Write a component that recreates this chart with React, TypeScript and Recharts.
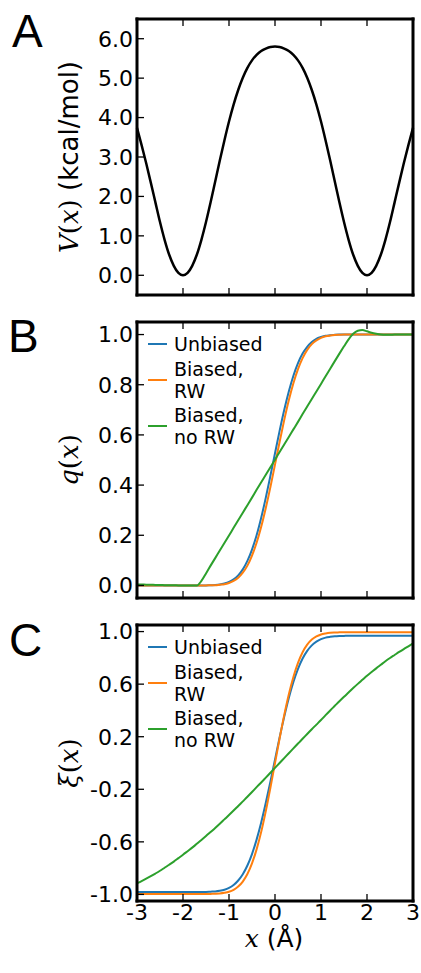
import React from "react";
import { LineChart, Line, XAxis, YAxis, Legend } from "recharts";

// x grid (Å), shared by all three panels
const X = [
  -3.0, -2.9, -2.8, -2.7, -2.6, -2.5, -2.4, -2.3, -2.2, -2.1,
  -2.0, -1.9, -1.8, -1.7, -1.6, -1.5, -1.4, -1.3, -1.2, -1.1,
  -1.0, -0.9, -0.8, -0.7, -0.6, -0.5, -0.4, -0.3, -0.2, -0.1,
  0.0, 0.1, 0.2, 0.3, 0.4, 0.5, 0.6, 0.7, 0.8, 0.9,
  1.0, 1.1, 1.2, 1.3, 1.4, 1.5, 1.6, 1.7, 1.8, 1.9,
  2.0, 2.1, 2.2, 2.3, 2.4, 2.5, 2.6, 2.7, 2.8, 2.9, 3.0,
];

// panel A: V(x) in kcal/mol
const V_KCAL = [
  3.74, 3.3, 2.84, 2.35, 1.85, 1.35, 0.9, 0.52, 0.24, 0.06,
  0.0, 0.06, 0.24, 0.52, 0.9, 1.35, 1.85, 2.38, 2.91, 3.42,
  3.9, 4.33, 4.7, 5.01, 5.26, 5.45, 5.59, 5.69, 5.75, 5.79,
  5.8, 5.79, 5.75, 5.69, 5.59, 5.45, 5.26, 5.01, 4.7, 4.33,
  3.9, 3.42, 2.91, 2.38, 1.85, 1.35, 0.9, 0.52, 0.24, 0.06,
  0.0, 0.06, 0.24, 0.52, 0.9, 1.35, 1.85, 2.35, 2.84, 3.3, 3.74,
];

// panel B: q(x)
const Q_UNBIASED = [
  0, 0, 0, 0, 0, 0, 0, 0, 0, 0,
  0, 0, 0, 0, 0, 0.0, 0.001, 0.002, 0.004, 0.008,
  0.014, 0.024, 0.04, 0.064, 0.098, 0.143, 0.2, 0.27, 0.35, 0.437,
  0.527, 0.616, 0.699, 0.773, 0.836, 0.886, 0.924, 0.951, 0.97, 0.983,
  0.99, 0.995, 0.997, 0.999, 1, 1, 1, 1, 1, 1,
  1, 1, 1, 1, 1, 1, 1, 1, 1, 1, 1,
];
const Q_RW = [
  0, 0, 0, 0, 0, 0, 0, 0, 0, 0,
  0, 0, 0, 0, 0, 0.0, 0.001, 0.001, 0.003, 0.005,
  0.01, 0.018, 0.031, 0.051, 0.079, 0.119, 0.17, 0.234, 0.309, 0.392,
  0.482, 0.572, 0.659, 0.738, 0.806, 0.862, 0.906, 0.939, 0.962, 0.977,
  0.987, 0.993, 0.996, 0.998, 0.999, 1, 1, 1, 1, 1,
  1, 1, 1, 1, 1, 1, 1, 1, 1, 1, 1,
];
const Q_NO_RW = [
  0.004, 0.004, 0.003, 0.003, 0.002, 0.002, 0.001, 0.001, 0.001, 0.0,
  0.0, 0.0, 0.0, 0.0, 0.018, 0.048, 0.079, 0.109, 0.139, 0.169,
  0.199, 0.23, 0.26, 0.29, 0.32, 0.35, 0.381, 0.411, 0.441, 0.471,
  0.501, 0.532, 0.562, 0.592, 0.622, 0.652, 0.683, 0.713, 0.743, 0.773,
  0.803, 0.834, 0.864, 0.894, 0.924, 0.953, 0.981, 1.003, 1.015, 1.018,
  1.013, 1.007, 1.003, 1.0, 0.999, 0.999, 1.0, 1.0, 1.0, 1.0, 1.0,
];

// panel C: xi(x)
const XI_UNBIASED = [
  -0.982, -0.982, -0.982, -0.982, -0.982, -0.982, -0.982, -0.982, -0.982, -0.982,
  -0.982, -0.982, -0.982, -0.982, -0.982, -0.981, -0.979, -0.977, -0.972, -0.964,
  -0.95, -0.928, -0.894, -0.846, -0.78, -0.693, -0.583, -0.453, -0.303, -0.142,
  0.026, 0.194, 0.351, 0.494, 0.616, 0.716, 0.795, 0.853, 0.895, 0.923,
  0.942, 0.954, 0.96, 0.964, 0.966, 0.967, 0.968, 0.968, 0.968, 0.968,
  0.968, 0.968, 0.968, 0.968, 0.968, 0.968, 0.968, 0.968, 0.968, 0.968, 0.968,
];
const XI_RW = [
  -0.997, -0.997, -0.997, -0.997, -0.997, -0.997, -0.997, -0.997, -0.997, -0.997,
  -0.997, -0.997, -0.997, -0.997, -0.997, -0.997, -0.996, -0.995, -0.993, -0.988,
  -0.98, -0.965, -0.94, -0.902, -0.845, -0.764, -0.657, -0.524, -0.366, -0.188,
  -0.001, 0.186, 0.364, 0.522, 0.655, 0.762, 0.843, 0.9, 0.939, 0.963,
  0.978, 0.986, 0.991, 0.993, 0.994, 0.995, 0.995, 0.995, 0.995, 0.995,
  0.995, 0.995, 0.995, 0.995, 0.995, 0.995, 0.995, 0.995, 0.995, 0.995, 0.995,
];
const XI_NO_RW = [
  -0.915, -0.898, -0.88, -0.861, -0.841, -0.82, -0.797, -0.774, -0.75, -0.724,
  -0.698, -0.671, -0.644, -0.615, -0.586, -0.556, -0.525, -0.494, -0.462, -0.429,
  -0.396, -0.362, -0.327, -0.292, -0.257, -0.221, -0.184, -0.148, -0.111, -0.074,
  -0.037, 0.0, 0.037, 0.074, 0.111, 0.148, 0.184, 0.221, 0.257, 0.292,
  0.327, 0.364, 0.4, 0.435, 0.47, 0.504, 0.537, 0.57, 0.602, 0.633,
  0.664, 0.692, 0.72, 0.747, 0.774, 0.799, 0.822, 0.845, 0.867, 0.888, 0.91,
];

const X_TICKS = [-3, -2, -1, 0, 1, 2, 3];
const V_TICKS = [0, 1, 2, 3, 4, 5, 6];
const Q_TICKS = [0, 0.2, 0.4, 0.6, 0.8, 1.0];
const XI_TICKS = [-1.0, -0.6, -0.2, 0.2, 0.6, 1.0];

const BLUE = "#1f77b4";
const ORANGE = "#ff7f0e";
const GREEN = "#2ca02c";

const SANS = "'DejaVu Sans', sans-serif";
const SERIF = "'DejaVu Serif', serif";
const LETTER_FONT = "'Liberation Sans', Arial, sans-serif";

const A_DATA = X.map((x, i) => ({ x, v: V_KCAL[i] }));
const B_DATA = X.map((x, i) => ({ x, u: Q_UNBIASED[i], rw: Q_RW[i], norw: Q_NO_RW[i] }));
const C_DATA = X.map((x, i) => ({ x, u: XI_UNBIASED[i], rw: XI_RW[i], norw: XI_NO_RW[i] }));

const LEGEND_ITEMS = [
  { color: BLUE, label: ["Unbiased"] },
  { color: ORANGE, label: ["Biased,", "RW"] },
  { color: GREEN, label: ["Biased,", "no RW"] },
];

const FRAME = { stroke: "#000", strokeWidth: 3, strokeLinecap: "square" as const };
const TICK_LINE = { stroke: "#000", strokeWidth: 1.3 };
const TICK_TEXT = { fill: "#000", fontSize: 22, fontFamily: SANS };
const blank = () => "";

function LegendBox() {
  return (
    <div style={{ fontFamily: SANS, fontSize: 19, lineHeight: "22px", color: "#000" }}>
      {LEGEND_ITEMS.map((it, i) => (
        <div key={i} style={{ display: "flex", alignItems: "center", marginTop: i ? 2.5 : 0 }}>
          <span style={{ width: 19, height: 2, background: it.color, marginRight: 7, flex: "none" }} />
          <div>
            {it.label.map((l) => (
              <div key={l}>{l}</div>
            ))}
          </div>
        </div>
      ))}
    </div>
  );
}

const mathTitle = (sym: string, rest?: string) => (
  <>
    <tspan fontFamily={SERIF} fontStyle="italic">{sym}</tspan>
    <tspan fontFamily={SERIF}>(</tspan>
    <tspan fontFamily={SERIF} fontStyle="italic">x</tspan>
    <tspan fontFamily={SERIF}>)</tspan>
    {rest ? <tspan fontFamily={SANS}>{rest}</tspan> : null}
  </>
);

type Series = { key: string; color: string; width: number };

type PanelProps = {
  top: number;
  height: number;
  data: any[];
  domain: [number, number];
  yTicks: number[];
  series: Series[];
  letter: string;
  letterX: number;
  letterY: number;
  title: React.ReactNode;
  legend?: boolean;
  xLabels?: boolean;
};

function Panel(p: PanelProps) {
  const yTitle = (props: any) => {
    const vb = props.viewBox || { y: 19, height: 276 };
    const cy = vb.y + vb.height / 2;
    return (
      <g>
        <text x={p.letterX} y={p.letterY} fontFamily={LETTER_FONT} fontSize={46} fill="#000">
          {p.letter}
        </text>
        <text x={78} y={cy} transform={`rotate(-90 78 ${cy})`} textAnchor="middle" fontSize={26} fill="#000">
          {p.title}
        </text>
      </g>
    );
  };
  const xTitle = (props: any) => {
    const vb = props.viewBox || { x: 137, y: 295, width: 276 };
    return (
      <text x={vb.x + vb.width / 2 - 1} y={vb.y + 46} textAnchor="middle" fontSize={25} fill="#000">
        <tspan fontFamily={SERIF} fontStyle="italic">x</tspan>
        <tspan fontFamily={SANS}>{" (Å)"}</tspan>
      </text>
    );
  };

  return (
    <div style={{ position: "absolute", left: 0, top: p.top }}>
      <LineChart
        width={421}
        height={p.height}
        data={p.data}
        margin={{ top: 18, right: 7, bottom: p.height - 296, left: 136 }}
      >
        <XAxis
          dataKey="x"
          type="number"
          domain={[-3, 3]}
          ticks={X_TICKS}
          interval={0}
          height={1}
          axisLine={FRAME}
          tickLine={TICK_LINE}
          tickSize={-7}
          tickMargin={10}
          tick={TICK_TEXT}
          tickFormatter={p.xLabels ? (v: number) => String(v) : blank}
          label={p.xLabels ? xTitle : undefined}
        />
        <XAxis
          xAxisId="top"
          orientation="top"
          dataKey="x"
          type="number"
          domain={[-3, 3]}
          ticks={X_TICKS}
          interval={0}
          height={1}
          axisLine={FRAME}
          tickLine={TICK_LINE}
          tickSize={-7}
          tickFormatter={blank}
        />
        <YAxis
          type="number"
          domain={p.domain}
          ticks={p.yTicks}
          interval={0}
          width={1}
          axisLine={FRAME}
          tickLine={TICK_LINE}
          tickSize={-7}
          tickMargin={11}
          tick={TICK_TEXT}
          tickFormatter={(v: number) => v.toFixed(1)}
          label={yTitle}
        />
        <YAxis
          yAxisId="right"
          orientation="right"
          type="number"
          domain={p.domain}
          ticks={p.yTicks}
          interval={0}
          width={1}
          axisLine={FRAME}
          tickLine={TICK_LINE}
          tickSize={-7}
          tickFormatter={blank}
        />
        {p.series.map((s) => (
          <Line
            key={s.key}
            type="monotone"
            dataKey={s.key}
            stroke={s.color}
            strokeWidth={s.width}
            dot={false}
            activeDot={false}
            isAnimationActive={false}
          />
        ))}
        {p.legend ? (
          <Legend
            layout="vertical"
            align="center"
            verticalAlign="middle"
            content={() => <LegendBox />}
            wrapperStyle={{ left: 148, top: 30, width: 180 }}
          />
        ) : null}
      </LineChart>
    </div>
  );
}

const THREE: Series[] = [
  { key: "u", color: BLUE, width: 2 },
  { key: "rw", color: ORANGE, width: 2 },
  { key: "norw", color: GREEN, width: 2 },
];

export default function App() {
  return (
    <div style={{ position: "absolute", left: 0, top: 0, width: 421, height: 973, background: "#fff" }}>
      <Panel
        top={0}
        height={303}
        data={A_DATA}
        domain={[-0.5, 6.5]}
        yTicks={V_TICKS}
        series={[{ key: "v", color: "#000", width: 2.5 }]}
        letter="A"
        letterX={12}
        letterY={47}
        title={mathTitle("V", " (kcal/mol)")}
      />
      <Panel
        top={303}
        height={303}
        data={B_DATA}
        domain={[-0.05, 1.05]}
        yTicks={Q_TICKS}
        series={THREE}
        letter="B"
        letterX={8}
        letterY={49}
        title={mathTitle("q")}
        legend
      />
      <Panel
        top={606}
        height={367}
        data={C_DATA}
        domain={[-1.05, 1.05]}
        yTicks={XI_TICKS}
        series={THREE}
        letter="C"
        letterX={9}
        letterY={50}
        title={mathTitle("ξ")}
        legend
        xLabels
      />
    </div>
  );
}
